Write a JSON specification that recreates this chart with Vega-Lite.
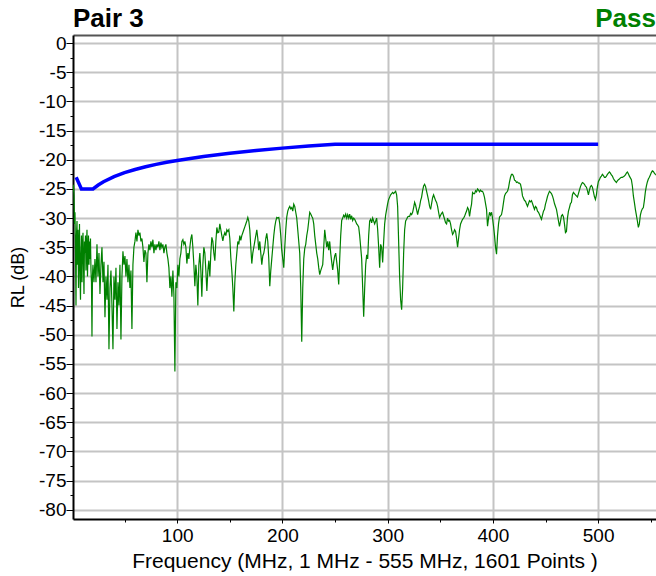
{
  "$schema": "https://vega.github.io/schema/vega-lite/v6.json",
  "width": 583,
  "height": 484,
  "autosize": {"type": "none"},
  "padding": {"left": 73, "top": 35, "right": 0, "bottom": 57},
  "background": "white",
  "config": {
    "font": "Liberation Sans",
    "view": {"stroke": null}
  },
  "datasets": {
    "measured": [
      {"f":1.0,"rl":-25.5},{"f":1.47,"rl":-24.3},{"f":1.95,"rl":-26},{"f":2.42,"rl":-31},{"f":2.90,"rl":-29},{"f":3.37,"rl":-36},{"f":3.85,"rl":-45},{"f":4.32,"rl":-33},{"f":4.80,"rl":-30.5},{"f":5.27,"rl":-38},{"f":5.75,"rl":-32},{"f":6.22,"rl":-42},{"f":6.70,"rl":-35},{"f":7.17,"rl":-31},{"f":7.64,"rl":-40},{"f":8.12,"rl":-44},{"f":8.59,"rl":-36},{"f":9.07,"rl":-33},{"f":9.54,"rl":-41},{"f":10.02,"rl":-35},
      {"f":10.49,"rl":-32.5},{"f":10.97,"rl":-38},{"f":11.44,"rl":-43},{"f":11.92,"rl":-34},{"f":12.39,"rl":-36},{"f":12.86,"rl":-33},{"f":13.34,"rl":-39},{"f":13.81,"rl":-35},{"f":14.29,"rl":-32},{"f":14.76,"rl":-40},{"f":15.24,"rl":-36},{"f":15.71,"rl":-33},{"f":16.19,"rl":-38},{"f":16.66,"rl":-34},{"f":17.14,"rl":-37},{"f":17.61,"rl":-33.5},{"f":18.09,"rl":-39},{"f":18.56,"rl":-41},{"f":19.03,"rl":-50.3},{"f":19.51,"rl":-40},
      {"f":19.98,"rl":-38},{"f":20.93,"rl":-41},{"f":21.88,"rl":-37},{"f":22.83,"rl":-41},{"f":23.78,"rl":-34.5},{"f":24.73,"rl":-40},{"f":25.68,"rl":-36},{"f":26.62,"rl":-43},{"f":27.57,"rl":-38},{"f":28.52,"rl":-35},
      {"f":29.48,"rl":-41},{"f":30.43,"rl":-37.5},{"f":31.38,"rl":-47},{"f":32.33,"rl":-40},{"f":33.28,"rl":-44},{"f":34.23,"rl":-38},{"f":35.18,"rl":-52.5},{"f":36.12,"rl":-42},{"f":37.07,"rl":-39},{"f":38.02,"rl":-45},
      {"f":38.97,"rl":-52.5},{"f":39.92,"rl":-40},{"f":40.87,"rl":-44},{"f":41.82,"rl":-38.5},{"f":42.77,"rl":-49},{"f":43.72,"rl":-41},{"f":44.67,"rl":-45},{"f":45.61,"rl":-38},{"f":46.56,"rl":-50.8},{"f":47.51,"rl":-40},
      {"f":48.46,"rl":-35.7},{"f":49.41,"rl":-38},{"f":50.36,"rl":-36.5},{"f":51.31,"rl":-40},{"f":52.26,"rl":-37},{"f":53.21,"rl":-41},{"f":54.16,"rl":-38},{"f":55.10,"rl":-42},{"f":56.05,"rl":-39},{"f":57.00,"rl":-49},
      {"f":57.95,"rl":-38},{"f":58.90,"rl":-35},{"f":59.85,"rl":-34},{"f":60.80,"rl":-32.5},{"f":61.75,"rl":-34},{"f":62.70,"rl":-32},{"f":63.65,"rl":-33},{"f":64.59,"rl":-32.5},{"f":65.54,"rl":-34},{"f":66.49,"rl":-33.5},
      {"f":67.44,"rl":-35},{"f":68.39,"rl":-37.5},{"f":69.34,"rl":-35.5},{"f":70.29,"rl":-36},{"f":71.24,"rl":-41},{"f":72.19,"rl":-36},{"f":73.14,"rl":-34.5},{"f":74.08,"rl":-35.5},{"f":75.03,"rl":-34},{"f":75.98,"rl":-35},
      {"f":76.94,"rl":-33.7},{"f":77.89,"rl":-36},{"f":78.84,"rl":-34.5},{"f":79.79,"rl":-35.5},{"f":80.74,"rl":-34.5},{"f":81.69,"rl":-35},{"f":82.64,"rl":-34},{"f":83.58,"rl":-35.5},{"f":84.53,"rl":-34.2},{"f":85.48,"rl":-35},
      {"f":86.43,"rl":-34.5},{"f":87.38,"rl":-36},{"f":88.33,"rl":-35},{"f":89.28,"rl":-34.5},{"f":90.23,"rl":-36},{"f":91.18,"rl":-37},{"f":92.13,"rl":-38.5},{"f":93.07,"rl":-42},{"f":94.02,"rl":-40},{"f":94.97,"rl":-43.5},
      {"f":95.92,"rl":-39},{"f":96.87,"rl":-43},{"f":97.82,"rl":-56.3},{"f":98.77,"rl":-41},{"f":99.72,"rl":-42},{"f":100.67,"rl":-38},{"f":101.62,"rl":-40},{"f":102.56,"rl":-37},{"f":103.51,"rl":-36},{"f":104.46,"rl":-34},
      {"f":105.41,"rl":-33.7},{"f":106.36,"rl":-34.5},{"f":107.31,"rl":-34},{"f":108.26,"rl":-35},{"f":109.21,"rl":-37.8},{"f":110.16,"rl":-36},{"f":111.10,"rl":-37},{"f":112.05,"rl":-35},{"f":113.00,"rl":-33.5},{"f":113.95,"rl":-32.8},
      {"f":114.90,"rl":-35},{"f":115.85,"rl":-38},{"f":116.80,"rl":-41.7},{"f":117.75,"rl":-38},{"f":118.70,"rl":-40},{"f":119.64,"rl":-45},{"f":120.59,"rl":-38},{"f":121.54,"rl":-36},{"f":122.49,"rl":-39},{"f":123.44,"rl":-43.5},
      {"f":124.40,"rl":-38},{"f":125.35,"rl":-35},{"f":126.30,"rl":-36},{"f":127.25,"rl":-39},{"f":128.20,"rl":-42.5},{"f":129.15,"rl":-39},{"f":130.10,"rl":-37.3},{"f":131.04,"rl":-40},{"f":131.99,"rl":-36},{"f":132.94,"rl":-33.3},
      {"f":133.89,"rl":-34},{"f":134.84,"rl":-36},{"f":135.79,"rl":-37.3},{"f":136.74,"rl":-34},{"f":137.69,"rl":-31.6},{"f":138.64,"rl":-32.5},{"f":139.59,"rl":-32.4},{"f":140.53,"rl":-31},{"f":141.48,"rl":-32},{"f":142.43,"rl":-33},
      {"f":143.38,"rl":-33.9},{"f":144.33,"rl":-33},{"f":145.28,"rl":-32.5},{"f":146.23,"rl":-33},{"f":147.18,"rl":-32},{"f":148.13,"rl":-32.3},{"f":149.08,"rl":-32},{"f":150.02,"rl":-33.5},{"f":150.97,"rl":-36.8},{"f":151.92,"rl":-39},
      {"f":152.87,"rl":-42},{"f":153.82,"rl":-46},{"f":154.77,"rl":-41},{"f":155.72,"rl":-38},{"f":156.67,"rl":-36},{"f":157.62,"rl":-34},{"f":158.57,"rl":-34.5},{"f":159.51,"rl":-33},{"f":160.46,"rl":-33.8},{"f":161.41,"rl":-33},
      {"f":162.36,"rl":-32.5},{"f":163.31,"rl":-32},{"f":164.26,"rl":-31.5},{"f":165.21,"rl":-31},{"f":166.16,"rl":-30.5},{"f":167.11,"rl":-29.9},{"f":168.06,"rl":-30.5},{"f":169.00,"rl":-32},{"f":169.95,"rl":-35},{"f":170.90,"rl":-37.8},
      {"f":171.86,"rl":-36},{"f":172.81,"rl":-35},{"f":173.76,"rl":-34},{"f":174.71,"rl":-33},{"f":175.66,"rl":-32},{"f":176.61,"rl":-33.5},{"f":177.56,"rl":-35.5},{"f":178.50,"rl":-34},{"f":179.45,"rl":-36},{"f":180.40,"rl":-38},
      {"f":181.35,"rl":-36.5},{"f":182.30,"rl":-36},{"f":183.25,"rl":-35},{"f":184.20,"rl":-33.5},{"f":185.15,"rl":-32.6},{"f":186.10,"rl":-34},{"f":187.05,"rl":-37},{"f":187.99,"rl":-41.7},{"f":188.94,"rl":-39},{"f":189.89,"rl":-37},
      {"f":190.84,"rl":-35},{"f":191.79,"rl":-33},{"f":192.74,"rl":-31.5},{"f":193.69,"rl":-30.5},{"f":194.64,"rl":-29.9},{"f":195.59,"rl":-30},{"f":196.54,"rl":-29.9},{"f":197.48,"rl":-31},{"f":198.43,"rl":-33},{"f":199.38,"rl":-35.5},
      {"f":200.33,"rl":-37},{"f":201.28,"rl":-38.5},{"f":202.23,"rl":-35},{"f":203.18,"rl":-32},{"f":204.13,"rl":-29.8},{"f":205.08,"rl":-28.8},{"f":206.03,"rl":-28.3},{"f":206.97,"rl":-28},{"f":207.92,"rl":-28.4},{"f":208.87,"rl":-28.2},
      {"f":209.82,"rl":-28.8},{"f":210.77,"rl":-27.6},{"f":211.72,"rl":-28},{"f":212.67,"rl":-29},{"f":213.62,"rl":-30},{"f":214.57,"rl":-32},{"f":215.52,"rl":-34},{"f":216.46,"rl":-36},{"f":217.41,"rl":-42},{"f":218.36,"rl":-51.2},
      {"f":219.32,"rl":-42},{"f":220.27,"rl":-37},{"f":221.22,"rl":-35.2},{"f":222.17,"rl":-34.5},{"f":223.12,"rl":-33},{"f":224.07,"rl":-32},{"f":225.02,"rl":-30.5},{"f":225.96,"rl":-29},{"f":226.91,"rl":-29.3},{"f":227.86,"rl":-29.7},
      {"f":228.81,"rl":-30},{"f":229.76,"rl":-31},{"f":230.71,"rl":-33},{"f":231.66,"rl":-34.5},{"f":232.61,"rl":-36},{"f":233.56,"rl":-37},{"f":234.51,"rl":-38.5},{"f":235.45,"rl":-39.7},{"f":236.40,"rl":-39},{"f":237.35,"rl":-38.5},
      {"f":238.30,"rl":-38},{"f":239.25,"rl":-35},{"f":240.20,"rl":-32},{"f":241.15,"rl":-33.5},{"f":242.10,"rl":-35},{"f":243.05,"rl":-34},{"f":244.00,"rl":-35.5},{"f":244.94,"rl":-34},{"f":245.89,"rl":-36},{"f":246.84,"rl":-37.5},
      {"f":247.79,"rl":-38.9},{"f":248.74,"rl":-37.5},{"f":249.69,"rl":-36.5},{"f":250.64,"rl":-36},{"f":251.59,"rl":-37.5},{"f":252.54,"rl":-39},{"f":253.49,"rl":-41.4},{"f":254.43,"rl":-37},{"f":255.38,"rl":-33},{"f":256.33,"rl":-30.4},
      {"f":257.28,"rl":-30},{"f":258.23,"rl":-29.5},{"f":259.18,"rl":-29.8},{"f":260.13,"rl":-29.3},{"f":261.08,"rl":-30},{"f":262.03,"rl":-29.4},{"f":262.98,"rl":-30},{"f":263.92,"rl":-29.3},{"f":264.87,"rl":-30.2},{"f":265.82,"rl":-29.6},
      {"f":266.78,"rl":-30.4},{"f":267.73,"rl":-30},{"f":268.68,"rl":-30.2},{"f":269.63,"rl":-30.6},{"f":270.58,"rl":-31},{"f":271.53,"rl":-31.2},{"f":272.48,"rl":-31.5},{"f":273.42,"rl":-33},{"f":274.37,"rl":-35},{"f":275.32,"rl":-37},
      {"f":276.27,"rl":-42},{"f":277.22,"rl":-46.9},{"f":278.17,"rl":-42},{"f":279.12,"rl":-38},{"f":280.07,"rl":-36.3},{"f":281.02,"rl":-37},{"f":281.97,"rl":-33},{"f":282.91,"rl":-30.5},{"f":283.86,"rl":-30.2},{"f":284.81,"rl":-30.8},
      {"f":285.76,"rl":-30},{"f":286.71,"rl":-30.5},{"f":287.66,"rl":-31},{"f":288.61,"rl":-30.5},{"f":289.56,"rl":-30},{"f":290.51,"rl":-32},{"f":291.46,"rl":-35},{"f":292.40,"rl":-38.5},{"f":293.35,"rl":-34.5},{"f":294.30,"rl":-35},
      {"f":295.25,"rl":-37.6},{"f":296.20,"rl":-34},{"f":297.15,"rl":-31},{"f":298.10,"rl":-29.5},{"f":299.05,"rl":-28.5},{"f":300.00,"rl":-27.5},{"f":300.95,"rl":-26.8},{"f":301.89,"rl":-26.4},{"f":302.84,"rl":-26},{"f":303.79,"rl":-25.8},
      {"f":304.74,"rl":-25.6},{"f":305.69,"rl":-25.8},{"f":306.64,"rl":-25.6},{"f":307.59,"rl":-25.4},{"f":308.54,"rl":-26},{"f":309.49,"rl":-28},{"f":310.44,"rl":-34},{"f":311.38,"rl":-40},{"f":312.33,"rl":-44},{"f":313.28,"rl":-45.7},
      {"f":314.24,"rl":-42},{"f":315.19,"rl":-36},{"f":316.14,"rl":-32},{"f":317.09,"rl":-30.5},{"f":318.04,"rl":-30.2},{"f":318.99,"rl":-29.8},{"f":319.94,"rl":-29.7},{"f":320.88,"rl":-29.7},{"f":321.83,"rl":-29.2},{"f":322.78,"rl":-29.4},
      {"f":323.73,"rl":-29},{"f":324.68,"rl":-28.2},{"f":325.63,"rl":-27.3},{"f":326.58,"rl":-27.8},{"f":327.53,"rl":-28.6},{"f":328.48,"rl":-29.4},{"f":329.43,"rl":-28.6},{"f":330.37,"rl":-28},{"f":331.32,"rl":-27},{"f":332.27,"rl":-26.4},
      {"f":333.22,"rl":-25.3},{"f":334.17,"rl":-24.5},{"f":335.12,"rl":-24.2},{"f":336.07,"rl":-24.6},{"f":337.02,"rl":-25.4},{"f":337.97,"rl":-26.2},{"f":338.92,"rl":-27},{"f":339.86,"rl":-28},{"f":340.81,"rl":-28.5},{"f":341.76,"rl":-27.5},
      {"f":342.71,"rl":-26.5},{"f":343.66,"rl":-26},{"f":344.61,"rl":-26.5},{"f":345.56,"rl":-27},{"f":346.51,"rl":-27.3},{"f":347.46,"rl":-28},{"f":348.41,"rl":-29},{"f":349.35,"rl":-29.9},{"f":350.30,"rl":-29.5},{"f":351.25,"rl":-29.2},
      {"f":352.20,"rl":-29},{"f":353.15,"rl":-29.6},{"f":354.10,"rl":-30.2},{"f":355.05,"rl":-30.8},{"f":356.00,"rl":-31},{"f":356.95,"rl":-30},{"f":357.90,"rl":-30.5},{"f":358.84,"rl":-30.4},{"f":359.79,"rl":-31},{"f":360.74,"rl":-32},
      {"f":361.70,"rl":-32.8},{"f":362.65,"rl":-32.5},{"f":363.60,"rl":-32},{"f":364.55,"rl":-32.3},{"f":365.50,"rl":-33.5},{"f":366.45,"rl":-35},{"f":367.40,"rl":-33.5},{"f":368.34,"rl":-32},{"f":369.29,"rl":-31},{"f":370.24,"rl":-30.6},
      {"f":371.19,"rl":-30.2},{"f":372.14,"rl":-30},{"f":373.09,"rl":-29.7},{"f":374.04,"rl":-29.2},{"f":374.99,"rl":-28.8},{"f":375.94,"rl":-28.2},{"f":376.89,"rl":-28.5},{"f":377.83,"rl":-29.7},{"f":378.78,"rl":-28.5},{"f":379.73,"rl":-27.6},
      {"f":380.68,"rl":-25.6},{"f":381.63,"rl":-25.8},{"f":382.58,"rl":-25.8},{"f":383.53,"rl":-25.3},{"f":384.48,"rl":-25.5},{"f":385.43,"rl":-25},{"f":386.38,"rl":-25.2},{"f":387.33,"rl":-25.5},{"f":388.28,"rl":-25.2},{"f":389.22,"rl":-25.4},
      {"f":390.17,"rl":-25.4},{"f":391.12,"rl":-25.8},{"f":392.07,"rl":-26.5},{"f":393.02,"rl":-27.5},{"f":393.97,"rl":-28.5},{"f":394.92,"rl":-31.4},{"f":395.87,"rl":-30},{"f":396.82,"rl":-29},{"f":397.77,"rl":-29.5},{"f":398.72,"rl":-29},
      {"f":399.66,"rl":-30},{"f":400.61,"rl":-31.4},{"f":401.56,"rl":-33},{"f":402.51,"rl":-35},{"f":403.46,"rl":-36.2},{"f":404.41,"rl":-33},{"f":405.36,"rl":-31},{"f":406.31,"rl":-29.8},{"f":407.26,"rl":-29.6},{"f":408.21,"rl":-29.4},
      {"f":409.16,"rl":-28.5},{"f":410.11,"rl":-27.3},{"f":411.06,"rl":-26.2},{"f":412.01,"rl":-25.8},{"f":412.96,"rl":-25.6},{"f":413.91,"rl":-25.4},{"f":414.86,"rl":-24.8},{"f":415.80,"rl":-23.8},{"f":416.75,"rl":-23},{"f":417.70,"rl":-22.5},
      {"f":418.65,"rl":-22.5},{"f":419.60,"rl":-22.8},{"f":420.55,"rl":-23.5},{"f":421.50,"rl":-23.6},{"f":422.45,"rl":-23.9},{"f":423.40,"rl":-23.8},{"f":424.35,"rl":-24},{"f":425.29,"rl":-24},{"f":426.24,"rl":-24.2},{"f":427.19,"rl":-25},
      {"f":428.14,"rl":-26.2},{"f":429.09,"rl":-26.6},{"f":430.04,"rl":-27},{"f":430.99,"rl":-27.1},{"f":431.94,"rl":-27.6},{"f":432.89,"rl":-28},{"f":433.84,"rl":-27.5},{"f":434.78,"rl":-27},{"f":435.73,"rl":-27.2},{"f":436.68,"rl":-27},
      {"f":437.63,"rl":-27.5},{"f":438.58,"rl":-28},{"f":439.53,"rl":-28.5},{"f":440.48,"rl":-28},{"f":441.43,"rl":-28.2},{"f":442.38,"rl":-28.8},{"f":443.33,"rl":-29},{"f":444.27,"rl":-29.4},{"f":445.22,"rl":-29.8},{"f":446.17,"rl":-30.2},
      {"f":447.12,"rl":-29.5},{"f":448.07,"rl":-28.8},{"f":449.02,"rl":-28.5},{"f":449.97,"rl":-27.6},{"f":450.92,"rl":-27},{"f":451.87,"rl":-26.3},{"f":452.82,"rl":-25.8},{"f":453.76,"rl":-25.4},{"f":454.71,"rl":-25.6},{"f":455.66,"rl":-25.8},
      {"f":456.62,"rl":-26.2},{"f":457.57,"rl":-26.8},{"f":458.52,"rl":-27.5},{"f":459.47,"rl":-28},{"f":460.42,"rl":-28.5},{"f":461.37,"rl":-29.5},{"f":462.32,"rl":-30.5},{"f":463.26,"rl":-31.4},{"f":464.21,"rl":-30.6},{"f":465.16,"rl":-29.6},
      {"f":466.11,"rl":-29.4},{"f":467.06,"rl":-29.8},{"f":468.01,"rl":-31},{"f":468.96,"rl":-32.5},{"f":469.91,"rl":-32.3},{"f":470.86,"rl":-30},{"f":471.81,"rl":-28.8},{"f":472.75,"rl":-28.2},{"f":473.70,"rl":-27.5},{"f":474.65,"rl":-27.3},
      {"f":475.60,"rl":-26},{"f":476.55,"rl":-25.6},{"f":477.50,"rl":-25.8},{"f":478.45,"rl":-26},{"f":479.40,"rl":-26.2},{"f":480.35,"rl":-26.4},{"f":481.30,"rl":-25.8},{"f":482.25,"rl":-25.2},{"f":483.20,"rl":-24.6},{"f":484.14,"rl":-24.2},
      {"f":485.09,"rl":-23.9},{"f":486.04,"rl":-24},{"f":486.99,"rl":-24.2},{"f":487.94,"rl":-24.5},{"f":488.89,"rl":-24.7},{"f":489.84,"rl":-25.3},{"f":490.79,"rl":-26},{"f":491.74,"rl":-25.2},{"f":492.69,"rl":-24.6},{"f":493.63,"rl":-24.4},
      {"f":494.58,"rl":-24.7},{"f":495.53,"rl":-25.5},{"f":496.48,"rl":-26.3},{"f":497.43,"rl":-26.8},{"f":498.38,"rl":-26},{"f":499.33,"rl":-24.6},{"f":500.28,"rl":-23.7},{"f":501.23,"rl":-23.4},{"f":502.18,"rl":-23},{"f":503.12,"rl":-22.8},
      {"f":504.08,"rl":-22.5},{"f":505.03,"rl":-22.7},{"f":505.98,"rl":-23},{"f":506.93,"rl":-23},{"f":507.88,"rl":-22.8},{"f":508.83,"rl":-22.5},{"f":509.78,"rl":-22.3},{"f":510.72,"rl":-22.1},{"f":511.67,"rl":-22.3},{"f":512.62,"rl":-22.6},
      {"f":513.57,"rl":-22.8},{"f":514.52,"rl":-23.2},{"f":515.47,"rl":-23.5},{"f":516.42,"rl":-23.7},{"f":517.37,"rl":-23.9},{"f":518.32,"rl":-23.6},{"f":519.27,"rl":-23.4},{"f":520.21,"rl":-23.3},{"f":521.16,"rl":-23.1},{"f":522.11,"rl":-23},
      {"f":523.06,"rl":-23},{"f":524.01,"rl":-22.9},{"f":524.96,"rl":-22.8},{"f":525.91,"rl":-22.6},{"f":526.86,"rl":-22.3},{"f":527.81,"rl":-22.1},{"f":528.76,"rl":-22.4},{"f":529.70,"rl":-22.8},{"f":530.65,"rl":-23.1},{"f":531.60,"rl":-23.4},
      {"f":532.55,"rl":-24.5},{"f":533.50,"rl":-26.2},{"f":534.45,"rl":-27.3},{"f":535.40,"rl":-28.5},{"f":536.35,"rl":-29.5},{"f":537.30,"rl":-30.5},{"f":538.25,"rl":-31.6},{"f":539.19,"rl":-31},{"f":540.14,"rl":-29.5},{"f":541.09,"rl":-28.8},
      {"f":542.04,"rl":-28.4},{"f":542.99,"rl":-28.2},{"f":543.94,"rl":-27},{"f":544.89,"rl":-25.5},{"f":545.84,"rl":-24.5},{"f":546.79,"rl":-23.8},{"f":547.74,"rl":-23.3},{"f":548.68,"rl":-23},{"f":549.63,"rl":-22.6},{"f":550.58,"rl":-22.2},
      {"f":551.54,"rl":-21.9},{"f":552.49,"rl":-22},{"f":553.44,"rl":-22.3},{"f":554.39,"rl":-22.5},{"f":555.0,"rl":-22.6}
    ],
    "limit": [
      {"f":4,"rl":-23},{"f":9,"rl":-25},{"f":20,"rl":-25},{"f":25,"rl":-24.32},{"f":30,"rl":-23.77},{"f":40,"rl":-22.89},{"f":50,"rl":-22.21},{"f":60,"rl":-21.66},{"f":70,"rl":-21.19},{"f":80,"rl":-20.79},{"f":90,"rl":-20.43},{"f":100,"rl":-20.11},{"f":125,"rl":-19.43},{"f":150,"rl":-18.87},{"f":175,"rl":-18.41},{"f":200,"rl":-18.0},{"f":225,"rl":-17.64},{"f":250,"rl":-17.32},{"f":500,"rl":-17.32}
    ],
    "header": [{"pair": "Pair 3", "result": "Pass"}]
  },
  "layer": [
    {
      "data": {"name": "measured"},
      "mark": {"type": "line", "color": "#008000", "strokeWidth": 1.2, "clip": true},
      "encoding": {
        "x": {
          "field": "f",
          "type": "quantitative",
          "scale": {"domain": [1, 555], "nice": false, "zero": false},
          "axis": {
            "values": [50, 100, 150, 200, 250, 300, 350, 400, 450, 500, 550],
            "labelExpr": "datum.value % 100 === 0 ? '' + datum.value : ''",
            "labelOverlap": false,
            "labelFlush": false,
            "labelFontSize": 19,
            "labelColor": "#000000",
            "labelPadding": 3,
            "tickColor": "#000000",
            "tickWidth": 1,
            "tickSize": {"condition": {"test": "datum.value % 100 === 0", "value": 4}, "value": 3},
            "grid": true,
            "gridColor": "#c4c4c4",
            "gridWidth": 2,
            "gridOpacity": {"condition": {"test": "datum.value % 100 === 0", "value": 1}, "value": 0},
            "domainColor": "#000000",
            "domainWidth": 2,
            "title": "Frequency (MHz, 1 MHz - 555 MHz, 1601 Points )",
            "titleFontSize": 21,
            "titleFontWeight": "normal",
            "titleColor": "#000000",
            "titlePadding": 5
          }
        },
        "y": {
          "field": "rl",
          "type": "quantitative",
          "scale": {"domain": [-81.6, 1.4], "nice": false, "zero": false},
          "axis": {
            "values": [0, -2.5, -5, -7.5, -10, -12.5, -15, -17.5, -20, -22.5, -25, -27.5, -30, -32.5, -35, -37.5, -40, -42.5, -45, -47.5, -50, -52.5, -55, -57.5, -60, -62.5, -65, -67.5, -70, -72.5, -75, -77.5, -80],
            "labelExpr": "datum.value % 5 === 0 ? '' + datum.value : ''",
            "labelOverlap": false,
            "labelFlush": false,
            "labelFontSize": 19,
            "labelColor": "#000000",
            "labelPadding": 0,
            "tickColor": "#000000",
            "tickWidth": 1,
            "tickSize": {"condition": {"test": "datum.value % 5 === 0", "value": 7}, "value": 3},
            "grid": true,
            "gridColor": "#c4c4c4",
            "gridWidth": 2,
            "gridOpacity": {"condition": {"test": "datum.value % 5 === 0", "value": 1}, "value": 0},
            "domainColor": "#000000",
            "domainWidth": 2,
            "title": "RL (dB)",
            "titleFontSize": 18,
            "titleFontWeight": "normal",
            "titleColor": "#000000",
            "titlePadding": 11
          }
        }
      }
    },
    {
      "data": {"name": "limit"},
      "mark": {"type": "line", "color": "#0000ff", "strokeWidth": 3.5, "clip": true},
      "encoding": {
        "x": {
          "field": "f",
          "type": "quantitative",
          "axis": {"orient": "top", "labels": false, "ticks": false, "grid": false, "title": null, "domainColor": "#555555", "domainWidth": 2}
        },
        "y": {
          "field": "rl",
          "type": "quantitative",
          "axis": {
            "values": [0, -2.5, -5, -7.5, -10, -12.5, -15, -17.5, -20, -22.5, -25, -27.5, -30, -32.5, -35, -37.5, -40, -42.5, -45, -47.5, -50, -52.5, -55, -57.5, -60, -62.5, -65, -67.5, -70, -72.5, -75, -77.5, -80],
            "labelExpr": "datum.value % 5 === 0 ? '' + datum.value : ''",
            "labelOverlap": false,
            "labelFlush": false,
            "labelFontSize": 19,
            "labelColor": "#000000",
            "labelPadding": 0,
            "tickColor": "#000000",
            "tickWidth": 1,
            "tickSize": {"condition": {"test": "datum.value % 5 === 0", "value": 7}, "value": 3},
            "grid": true,
            "gridColor": "#c4c4c4",
            "gridWidth": 2,
            "gridOpacity": {"condition": {"test": "datum.value % 5 === 0", "value": 1}, "value": 0},
            "domainColor": "#000000",
            "domainWidth": 2,
            "title": "RL (dB)",
            "titleFontSize": 18,
            "titleFontWeight": "normal",
            "titleColor": "#000000",
            "titlePadding": 11
          }
        }
      }
    },
    {
      "data": {"name": "header"},
      "mark": {"type": "text", "align": "left", "baseline": "alphabetic", "dy": -8, "fontSize": 26, "fontWeight": "bold", "color": "#000000"},
      "encoding": {
        "x": {"datum": 1, "type": "quantitative", "axis": null},
        "y": {
          "datum": 1.4,
          "type": "quantitative",
          "axis": {
            "values": [0, -2.5, -5, -7.5, -10, -12.5, -15, -17.5, -20, -22.5, -25, -27.5, -30, -32.5, -35, -37.5, -40, -42.5, -45, -47.5, -50, -52.5, -55, -57.5, -60, -62.5, -65, -67.5, -70, -72.5, -75, -77.5, -80],
            "labelExpr": "datum.value % 5 === 0 ? '' + datum.value : ''",
            "labelOverlap": false,
            "labelFlush": false,
            "labelFontSize": 19,
            "labelColor": "#000000",
            "labelPadding": 0,
            "tickColor": "#000000",
            "tickWidth": 1,
            "tickSize": {"condition": {"test": "datum.value % 5 === 0", "value": 7}, "value": 3},
            "grid": true,
            "gridColor": "#c4c4c4",
            "gridWidth": 2,
            "gridOpacity": {"condition": {"test": "datum.value % 5 === 0", "value": 1}, "value": 0},
            "domainColor": "#000000",
            "domainWidth": 2,
            "title": "RL (dB)",
            "titleFontSize": 18,
            "titleFontWeight": "normal",
            "titleColor": "#000000",
            "titlePadding": 11
          }
        },
        "text": {"field": "pair"}
      }
    },
    {
      "data": {"name": "header"},
      "mark": {"type": "text", "align": "right", "baseline": "alphabetic", "dy": -8, "fontSize": 26, "fontWeight": "bold", "color": "#008000"},
      "encoding": {
        "x": {"datum": 555, "type": "quantitative", "axis": null},
        "y": {
          "datum": 1.4,
          "type": "quantitative",
          "axis": {
            "values": [0, -2.5, -5, -7.5, -10, -12.5, -15, -17.5, -20, -22.5, -25, -27.5, -30, -32.5, -35, -37.5, -40, -42.5, -45, -47.5, -50, -52.5, -55, -57.5, -60, -62.5, -65, -67.5, -70, -72.5, -75, -77.5, -80],
            "labelExpr": "datum.value % 5 === 0 ? '' + datum.value : ''",
            "labelOverlap": false,
            "labelFlush": false,
            "labelFontSize": 19,
            "labelColor": "#000000",
            "labelPadding": 0,
            "tickColor": "#000000",
            "tickWidth": 1,
            "tickSize": {"condition": {"test": "datum.value % 5 === 0", "value": 7}, "value": 3},
            "grid": true,
            "gridColor": "#c4c4c4",
            "gridWidth": 2,
            "gridOpacity": {"condition": {"test": "datum.value % 5 === 0", "value": 1}, "value": 0},
            "domainColor": "#000000",
            "domainWidth": 2,
            "title": "RL (dB)",
            "titleFontSize": 18,
            "titleFontWeight": "normal",
            "titleColor": "#000000",
            "titlePadding": 11
          }
        },
        "text": {"field": "result"}
      }
    }
  ],
  "resolve": {"axis": {"x": "independent"}}
}
